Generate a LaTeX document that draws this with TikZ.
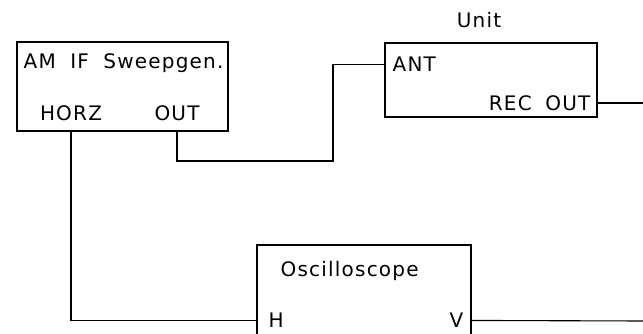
\documentclass[tikz,border=0pt]{standalone}
\usepackage{fontspec}
\setmainfont[LetterSpace=6]{DejaVu Sans}
\usetikzlibrary{calc, positioning}

\tikzset{
  unitbox/.style={draw, line width=1.1pt, inner sep=0pt},
  portlabel/.style={inner sep=0pt, font=\fontsize{20}{22}\selectfont},
  wire/.style={line width=1.1pt}
}

\begin{document}
\begin{tikzpicture}[x=1pt, y=-1pt]
  \useasboundingbox (0,0) rectangle (643,334);

  % blocks
  \node[unitbox, minimum width=211pt, minimum height=89pt] (gen) at (122.5,86.5) {};
  \node[unitbox, minimum width=212pt, minimum height=74pt] (unit) at (491,80) {};
  \node[unitbox, minimum width=214pt, minimum height=100pt] (scope) at (364,295) {};

  % texts
  \node[portlabel, anchor=west] (gentitle) at ($(gen.north west)+(7,22)$) {AM\hspace{0.35em} IF\hspace{0.35em} Sweepgen.};
  \node[portlabel] (horz) at (71,113) {HORZ};
  \node[portlabel] (out) at (177,113) {OUT};
  \node[portlabel] (unittitle) at ($(unit.north)+(-12,-22)$) {Unit};
  \node[portlabel, anchor=west] (ant) at ($(unit.north west)+(8,22)$) {ANT};
  \node[portlabel, anchor=east] (recout) at ($(unit.east)+(-7,23)$) {REC\hspace{0.3em} OUT};
  \node[portlabel, anchor=west] (sctitle) at ($(scope.north west)+(24,27)$) {Oscilloscope};
  \node[portlabel, anchor=west] (hin) at ($(scope.north west)+(12,76)$) {H};
  \node[portlabel, anchor=east] (vin) at ($(scope.north east)+(-8,76)$) {V};

  % connectors
  \coordinate (recend) at (643,103);
  \coordinate (vend) at (643,321);
  \draw[wire] (gen.south -| horz) |- (scope.west |- hin);
  \draw[wire] (gen.south -| out) |- (333,161) |- (unit.west |- ant);
  \draw[wire] (unit.east |- recout) -- (recend);
  \draw[wire] (scope.east |- vin) -- (vend);
\end{tikzpicture}
\end{document}
